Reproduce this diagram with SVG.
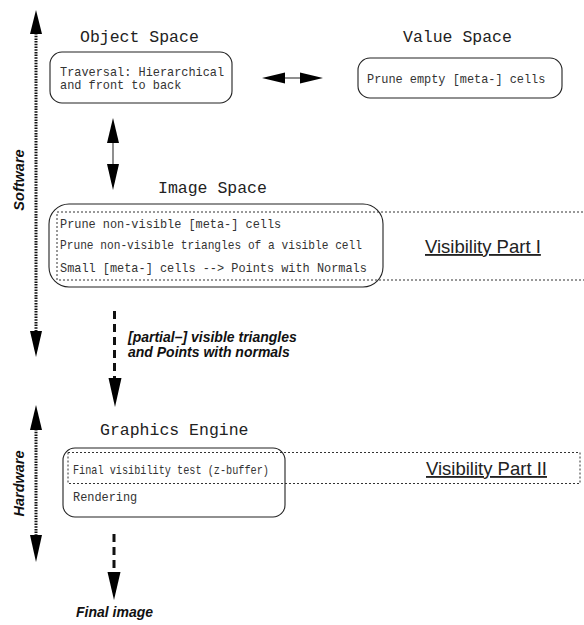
<svg xmlns="http://www.w3.org/2000/svg" width="584" height="625" viewBox="0 0 584 625">
<style>
.title{font-family:"Liberation Mono","Courier New",monospace;font-size:16.5px;fill:#222}
.body{font-family:"Liberation Mono","Courier New",monospace;font-size:11.9px;fill:#333}
.box{fill:none;stroke:#222;stroke-width:1.1}
.dotbox{fill:none;stroke:#333;stroke-width:1;stroke-dasharray:2 2}
.vis{font-family:"Liberation Sans",Arial,sans-serif;font-size:18.5px;fill:#222;text-decoration:underline}
.lab{font-family:"Liberation Sans",Arial,sans-serif;font-size:14px;font-weight:bold;font-style:italic;fill:#111}
.dotline{stroke:#111;stroke-width:3;stroke-dasharray:1.5 1.2}
.dash{stroke:#111;stroke-width:3;stroke-dasharray:8 5}
.thin{stroke:#444;stroke-width:1.2}
.head{fill:#000}
</style>
<rect width="584" height="625" fill="#fff"/>
<g id="connectors">
  <line class="dotline" x1="36" y1="33" x2="36" y2="332"/>
  <polygon class="head" points="36,10 30,34 42,34"/>
  <polygon class="head" points="36,357 30,331 42,331"/>
  <line class="dotline" x1="36" y1="429" x2="36" y2="536"/>
  <polygon class="head" points="36,405 30,430 42,430"/>
  <polygon class="head" points="36,562 30,535 42,535"/>
  <line class="thin" x1="284" y1="78" x2="301" y2="78"/>
  <polygon class="head" points="262,78 285,72.5 285,83.5"/>
  <polygon class="head" points="323,78 300,72.5 300,83.5"/>
  <line class="thin" x1="113" y1="142" x2="113" y2="166"/>
  <polygon class="head" points="113,118 107,143 119,143"/>
  <polygon class="head" points="113,190 107,164 119,164"/>
  <line class="dash" x1="114.5" y1="311" x2="114.5" y2="380"/>
  <polygon class="head" points="115,407 108.5,378 121.5,378"/>
  <line class="dash" x1="114" y1="534" x2="114" y2="574"/>
  <polygon class="head" points="114,600 107.5,572 120.5,572"/>
</g>
<g id="software-label">
  <text class="lab" transform="translate(24,180) rotate(-90)" text-anchor="middle" style="font-size:14.5px">Software</text>
</g>
<g id="hardware-label">
  <text class="lab" transform="translate(24,483.5) rotate(-90)" text-anchor="middle" style="font-size:14.5px">Hardware</text>
</g>
<g id="object-space">
  <text class="title" x="80" y="42">Object Space</text>
  <rect class="box" x="50" y="52" width="182" height="51" rx="12"/>
  <text class="body" x="60" y="76">Traversal: Hierarchical</text>
  <text class="body" x="60" y="89">and front to back</text>
</g>
<g id="value-space">
  <text class="title" x="403" y="42">Value Space</text>
  <rect class="box" x="358" y="58" width="204" height="40" rx="12"/>
  <text class="body" x="367" y="83">Prune empty [meta-] cells</text>
</g>
<g id="image-space">
  <text class="title" x="158" y="193">Image Space</text>
  <rect class="dotbox" x="57" y="212" width="540" height="68"/>
  <rect class="box" x="49" y="204" width="334" height="83" rx="20"/>
  <text class="body" x="60" y="228">Prune non-visible [meta-] cells</text>
  <text class="body" x="60" y="249" textLength="302" lengthAdjust="spacingAndGlyphs">Prune non-visible triangles of a visible cell</text>
  <text class="body" x="60" y="272">Small [meta-] cells --&gt; Points with Normals</text>
  <text class="vis" x="425" y="253">Visibility Part I</text>
</g>
<g id="transfer-label">
  <text class="lab" x="128" y="342">[partial–] visible triangles</text>
  <text class="lab" x="128" y="357">and Points with normals</text>
</g>
<g id="graphics-engine">
  <text class="title" x="100" y="435">Graphics Engine</text>
  <rect class="dotbox" x="68" y="452.5" width="512" height="31"/>
  <rect class="box" x="63" y="448" width="222" height="69" rx="12"/>
  <text class="body" x="73" y="474" textLength="196" lengthAdjust="spacingAndGlyphs">Final visibility test (z-buffer)</text>
  <text class="body" x="73" y="501">Rendering</text>
  <text class="vis" x="426" y="475">Visibility Part II</text>
</g>
<g id="final-image">
  <text class="lab" x="76" y="617">Final image</text>
</g>
</svg>
